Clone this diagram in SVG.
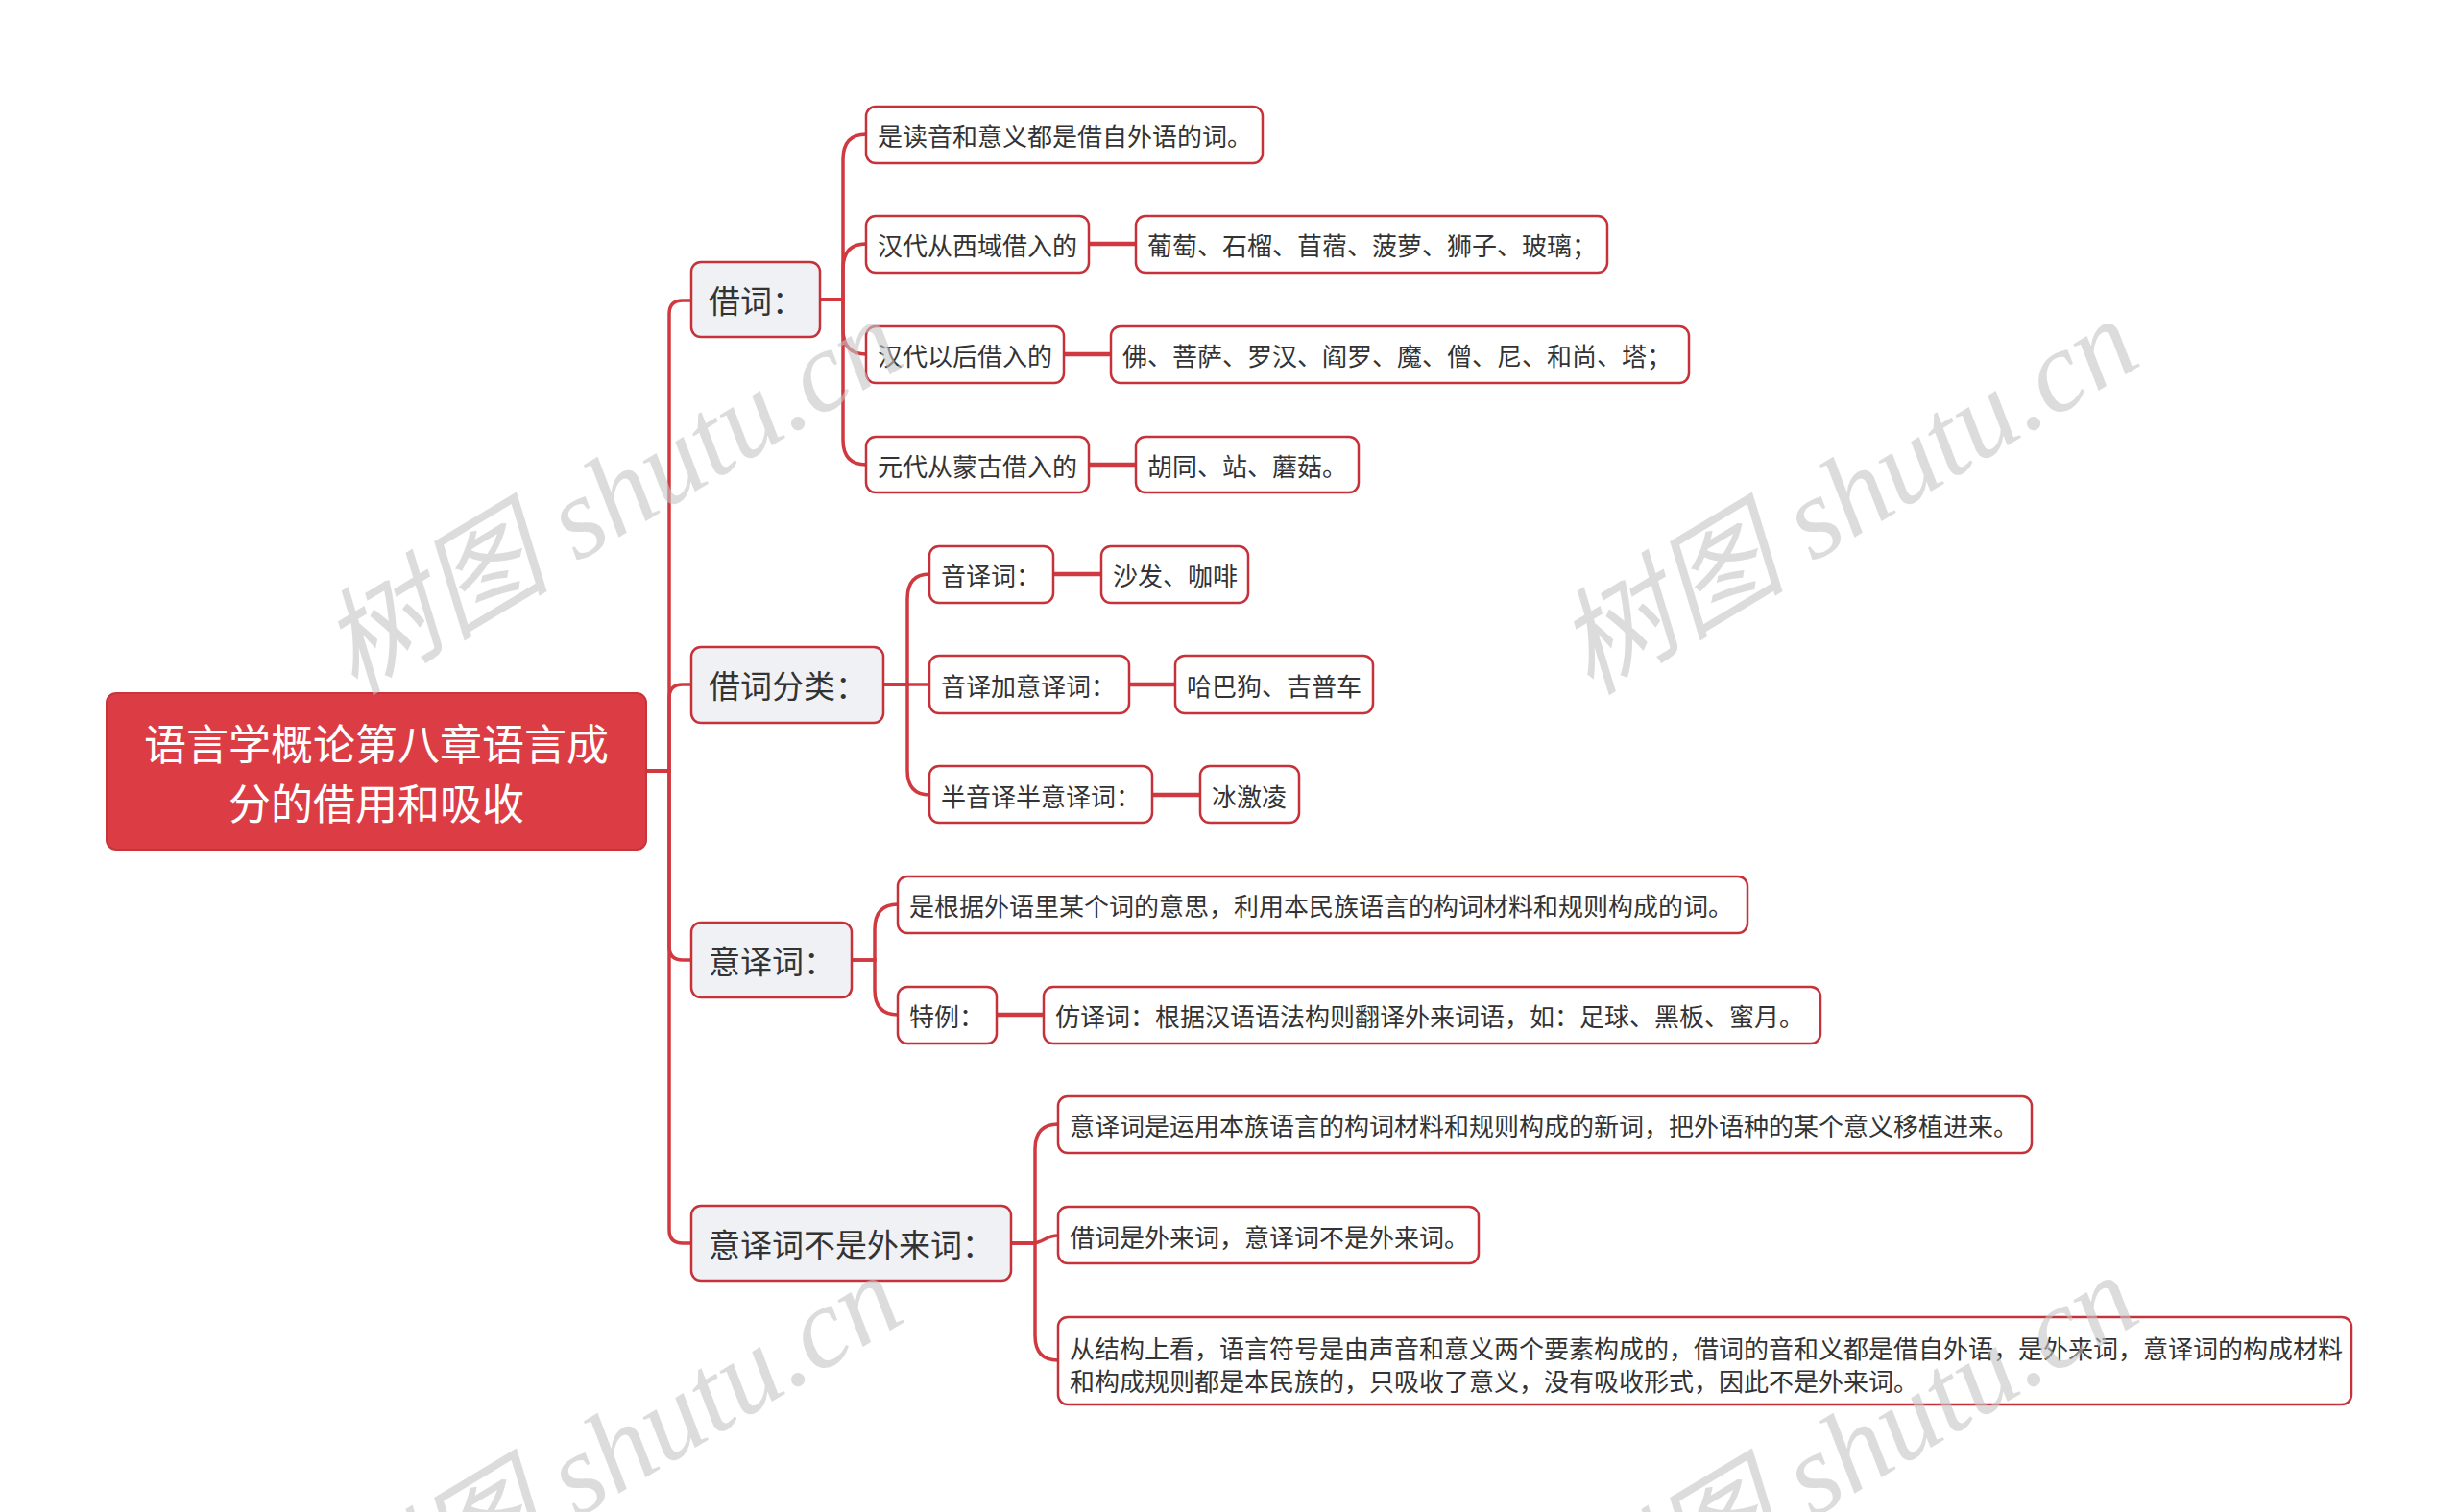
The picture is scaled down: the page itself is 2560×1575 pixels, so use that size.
<svg xmlns="http://www.w3.org/2000/svg" width="2560" height="1575" viewBox="0 0 2560 1575">
<style>
.bg{fill:#ffffff}
.root rect{fill:#dc3d44;stroke:#c9343b;stroke-width:2}
.root text{fill:#ffffff;font-size:44px;text-anchor:middle}
.n1 rect{fill:#eff1f4;stroke:#c5323a;stroke-width:2.5}
.n1 text{font-size:33px}
.n2 rect{fill:#ffffff;stroke:#c5323a;stroke-width:2.5}
.n2 text{font-size:26px}
text{font-family:"Noto Sans CJK SC","Noto Sans",sans-serif;fill:#333333;dominant-baseline:central}
.c path{fill:none;stroke:#d0393f;stroke-width:3.5;stroke-linecap:round}
.c .h{stroke-width:4.5}
.wm{font-family:"Liberation Serif","Noto Sans CJK SC",serif;font-style:italic;font-size:120px;fill:#c4c4c4;fill-opacity:0.6;text-anchor:middle;dominant-baseline:central}
</style>
<rect class="bg" x="0" y="0" width="2560" height="1575"/>
<g id="connectors" class="c">
<path d="M673,803 H697 V327 Q697,313 711,313 H720"/>
<path d="M673,803 H697 V727 Q697,713 711,713 H720"/>
<path d="M673,803 H697 V986 Q697,1000 711,1000 H720"/>
<path d="M673,803 H697 V1281 Q697,1295 711,1295 H720"/>
<path d="M854,312 H878 V166 Q878,140 902,140"/>
<path d="M854,312 H878 V280 Q878,254 902,254"/>
<path d="M854,312 H878 V343 Q878,369 902,369"/>
<path d="M854,312 H878 V458 Q878,484 902,484"/>
<path class="h" d="M1134,254 H1183"/>
<path class="h" d="M1108,369 H1157"/>
<path class="h" d="M1134,484 H1183"/>
<path d="M920,713 H945 V624 Q945,598 968,598"/>
<path d="M920,713 H968"/>
<path d="M920,713 H945 V802 Q945,828 968,828"/>
<path class="h" d="M1097,598 H1147"/>
<path class="h" d="M1176,713 H1224"/>
<path class="h" d="M1200,828 H1250"/>
<path d="M887,1000 H911 V968 Q911,942 935,942"/>
<path d="M887,1000 H911 V1031 Q911,1057 935,1057"/>
<path class="h" d="M1038,1057 H1087"/>
<path d="M1053,1295 H1078 V1197 Q1078,1171 1102,1171"/>
<path d="M1053,1295 H1074 C1088,1295 1088,1287 1102,1287"/>
<path d="M1053,1295 H1078 V1391 Q1078,1417 1102,1417"/>
</g>
<g id="root" class="root">
<rect x="111" y="722" width="562" height="163" rx="10"/>
<text x="392" y="773">语言学概论第八章语言成</text>
<text x="392" y="835">分的借用和吸收</text>
</g>
<g id="n-jieci" class="n1"><rect x="720" y="273" width="134" height="78" rx="10"/><text x="738" y="312">借词：</text></g>
<g id="n-fenlei" class="n1"><rect x="720" y="674" width="200" height="79" rx="10"/><text x="738" y="713">借词分类：</text></g>
<g id="n-yiyi" class="n1"><rect x="720" y="961" width="167" height="78" rx="10"/><text x="738" y="1000">意译词：</text></g>
<g id="n-bushi" class="n1"><rect x="720" y="1256" width="333" height="78" rx="10"/><text x="738" y="1295">意译词不是外来词：</text></g>

<g id="n-a1" class="n2"><rect x="902" y="111" width="413" height="59" rx="10"/><text x="914" y="140">是读音和意义都是借自外语的词。</text></g>
<g id="n-a2" class="n2"><rect x="902" y="225" width="232" height="59" rx="10"/><text x="914" y="254">汉代从西域借入的</text></g>
<g id="n-a2b" class="n2"><rect x="1183" y="225" width="491" height="59" rx="10"/><text x="1195" y="254">葡萄、石榴、苜蓿、菠萝、狮子、玻璃；</text></g>
<g id="n-a3" class="n2"><rect x="902" y="340" width="206" height="59" rx="10"/><text x="914" y="369">汉代以后借入的</text></g>
<g id="n-a3b" class="n2"><rect x="1157" y="340" width="602" height="59" rx="10"/><text x="1169" y="369">佛、菩萨、罗汉、阎罗、魔、僧、尼、和尚、塔；</text></g>
<g id="n-a4" class="n2"><rect x="902" y="455" width="232" height="58" rx="10"/><text x="914" y="484">元代从蒙古借入的</text></g>
<g id="n-a4b" class="n2"><rect x="1183" y="455" width="232" height="58" rx="10"/><text x="1195" y="484">胡同、站、蘑菇。</text></g>

<g id="n-b1" class="n2"><rect x="968" y="569" width="129" height="59" rx="10"/><text x="980" y="598">音译词：</text></g>
<g id="n-b1b" class="n2"><rect x="1147" y="569" width="153" height="59" rx="10"/><text x="1159" y="598">沙发、咖啡</text></g>
<g id="n-b2" class="n2"><rect x="968" y="683" width="208" height="60" rx="10"/><text x="980" y="713">音译加意译词：</text></g>
<g id="n-b2b" class="n2"><rect x="1224" y="683" width="206" height="60" rx="10"/><text x="1236" y="713">哈巴狗、吉普车</text></g>
<g id="n-b3" class="n2"><rect x="968" y="798" width="232" height="59" rx="10"/><text x="980" y="828">半音译半意译词：</text></g>
<g id="n-b3b" class="n2"><rect x="1250" y="798" width="103" height="59" rx="10"/><text x="1262" y="828">冰激凌</text></g>

<g id="n-c1" class="n2"><rect x="935" y="913" width="885" height="59" rx="10"/><text x="947" y="942">是根据外语里某个词的意思，利用本民族语言的构词材料和规则构成的词。</text></g>
<g id="n-c2" class="n2"><rect x="935" y="1028" width="103" height="59" rx="10"/><text x="947" y="1057">特例：</text></g>
<g id="n-c2b" class="n2"><rect x="1087" y="1028" width="809" height="59" rx="10"/><text x="1099" y="1057">仿译词：根据汉语语法构则翻译外来词语，如：足球、黑板、蜜月。</text></g>

<g id="n-d1" class="n2"><rect x="1102" y="1142" width="1014" height="59" rx="10"/><text x="1114" y="1171">意译词是运用本族语言的构词材料和规则构成的新词，把外语种的某个意义移植进来。</text></g>
<g id="n-d2" class="n2"><rect x="1102" y="1257" width="438" height="59" rx="10"/><text x="1114" y="1287">借词是外来词，意译词不是外来词。</text></g>
<g id="n-d3" class="n2"><rect x="1102" y="1372" width="1347" height="91" rx="10"/><text x="1114" y="1403">从结构上看，语言符号是由声音和意义两个要素构成的，借词的音和义都是借自外语，是外来词，意译词的构成材料</text><text x="1114" y="1437">和构成规则都是本民族的，只吸收了意义，没有吸收形式，因此不是外来词。</text></g>

<g id="watermarks">
<text class="wm" x="637" y="517" transform="rotate(-31 637 517)">树图 shutu.cn</text>
<text class="wm" x="1924" y="517" transform="rotate(-31 1924 517)">树图 shutu.cn</text>
<text class="wm" x="637" y="1513" transform="rotate(-31 637 1513)">树图 shutu.cn</text>
<text class="wm" x="1924" y="1513" transform="rotate(-31 1924 1513)">树图 shutu.cn</text>
</g>
</svg>
